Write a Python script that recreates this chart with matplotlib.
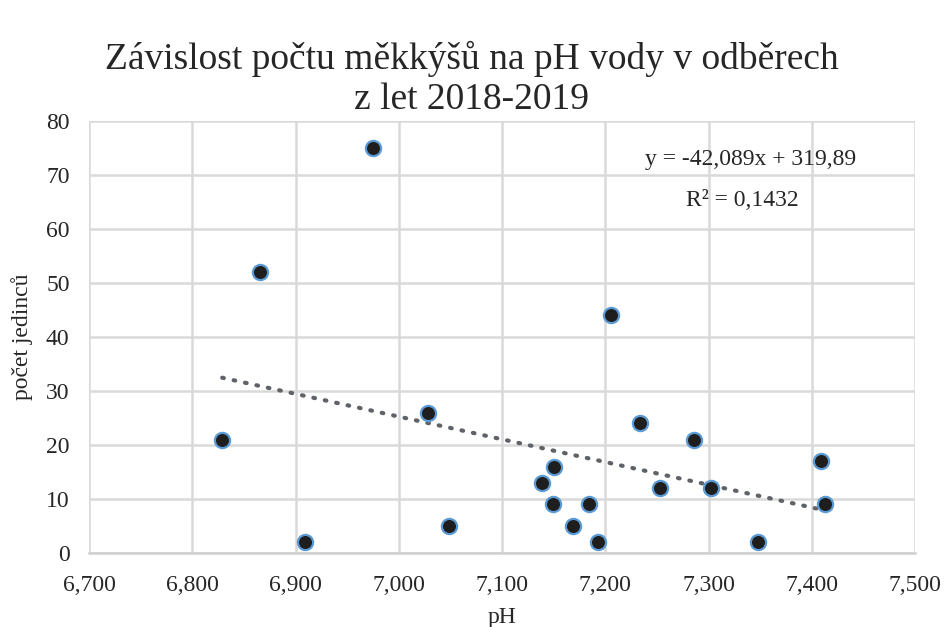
import numpy as np
import matplotlib.pyplot as plt
from matplotlib.ticker import FuncFormatter, MultipleLocator

plt.rcParams['font.family'] = ['Liberation Serif', 'DejaVu Serif']

# data
ph = [6.829, 6.866, 6.909, 6.975, 7.028, 7.049, 7.139, 7.150, 7.149, 7.169,
      7.184, 7.193, 7.206, 7.234, 7.286, 7.253, 7.302, 7.348, 7.409, 7.413]
pocet = [21, 52, 2, 75, 26, 5, 13, 16, 9, 5,
         9, 2, 44, 24, 21, 12, 12, 2, 17, 9]
slope = -42.089
intercept = 319.89
r2 = 0.1432

fig = plt.figure(figsize=(9.44, 6.27), dpi=100)
ax = fig.add_axes([0.0943, 0.118, 0.875, 0.689])

ax.scatter(ph, pocet, s=120, c='#1e1e1e', edgecolors='#5b9bd5', linewidths=1.6, zorder=3)

xt = np.array([min(ph), max(ph)])
ax.plot(xt, slope * xt + intercept, color='#5f6368', linestyle=(0, (0.4, 2.4)),
        linewidth=3.0, dash_capstyle='round', zorder=2)

ax.set_xlim(6.7, 7.5)
ax.set_ylim(0, 80)
ax.xaxis.set_major_locator(MultipleLocator(0.1))
ax.yaxis.set_major_locator(MultipleLocator(10))
ax.xaxis.set_major_formatter(FuncFormatter(lambda v, p: f"{v:,.3f}".replace('.', ',')))
ax.grid(True, color='#d9d9d9', linewidth=1.8)
ax.set_axisbelow(True)
for s in ['top', 'right', 'left']:
    ax.spines[s].set_visible(False)
ax.spines['bottom'].set_color('#d0d0d0')
ax.spines['bottom'].set_linewidth(1.8)
ax.tick_params(length=0, labelsize=17, labelcolor='#262626')
ax.tick_params(axis='x', pad=16)
ax.tick_params(axis='y', pad=14)

ax.set_xlabel('pH', fontsize=17, labelpad=8, color='#262626')
ax.set_ylabel('počet jedinců', fontsize=17, labelpad=9, color='#262626')

fig.suptitle('Závislost počtu měkkýšů na pH vody v odběrech\nz let 2018-2019',
             fontsize=27, y=0.935, va='top', linespacing=1.2, color='#262626')

eq = f"y = {slope:.3f}x + {intercept:.2f}".replace('.', ',')
ax.text(7.341, 72.9, eq, fontsize=17, ha='center', va='center', color='#262626')
ax.text(7.333, 65.3, f"R² = {r2:.4f}".replace('.', ','), fontsize=17, ha='center',
        va='center', color='#262626')

fig.savefig('out.png', dpi=100)
